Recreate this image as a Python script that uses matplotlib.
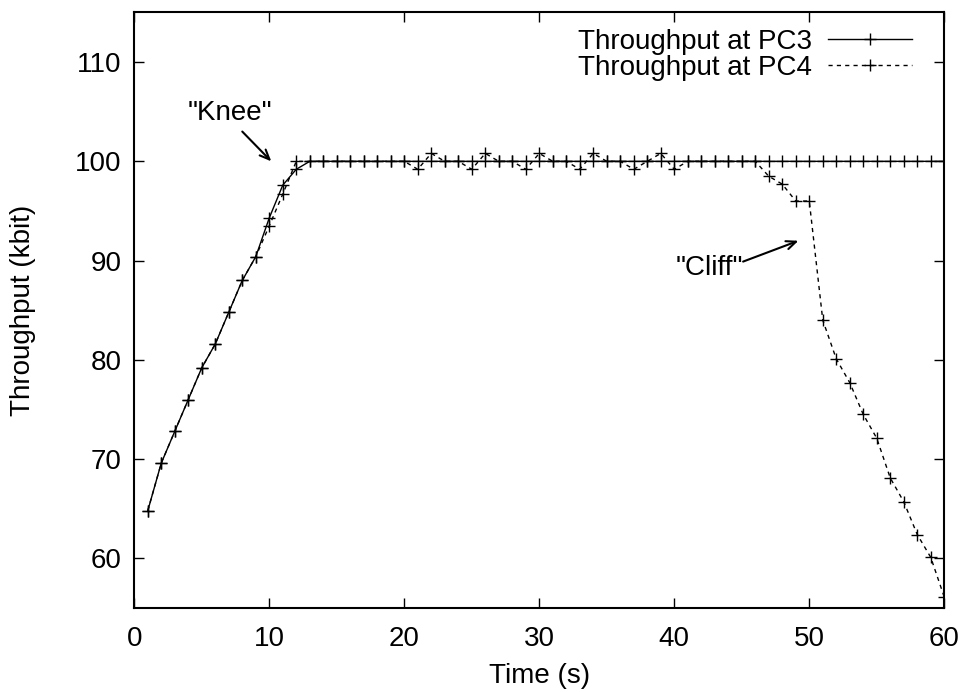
import matplotlib
matplotlib.use("Agg")
import matplotlib.pyplot as plt

plt.rcParams['font.family'] = ['Liberation Sans', 'DejaVu Sans']

# time in seconds
t = list(range(1, 61))

# throughput at PC3 (kbit)
pc3 = [64.8, 69.6, 72.8, 76.0, 79.2, 81.6, 84.8, 88.0, 90.4, 94.3,
       97.6, 99.2] + [100.0] * 48

# throughput at PC4 (kbit)
pc4 = [64.8, 69.6, 72.8, 76.0, 79.2, 81.6, 84.8, 88.0, 90.4, 93.5,
       96.7, 100.0, 100.0, 100.0, 100.0, 100.0, 100.0, 100.0, 100.0, 100.0,
       99.2, 100.8, 100.0, 100.0, 99.2, 100.8, 100.0, 100.0, 99.2, 100.8,
       100.0, 100.0, 99.2, 100.8, 100.0, 100.0, 99.2, 100.0, 100.8, 99.2,
       100.0, 100.0, 100.0, 100.0, 100.0, 100.0, 98.5, 97.7, 96.0, 96.0,
       84.0, 80.1, 77.7, 74.5, 72.1, 68.1, 65.7, 62.4, 60.1, 56.1]

xticks = [0, 10, 20, 30, 40, 50, 60]
yticks = [60, 70, 80, 90, 100, 110]

fs = 20

fig = plt.figure(figsize=(9.66, 6.92), dpi=100)
ax = fig.add_axes([0.139, 0.1214, 0.8385, 0.8606])

ax.plot(t, pc3, color='black', lw=1, marker='+', ms=8.5, mew=1,
        label='Throughput at PC3')
ax.plot(t, pc4, color='black', lw=1, ls=(0, (3, 3)), marker='+', ms=8.5, mew=1,
        label='Throughput at PC4')

ax.set_xlim(0, 60)
ax.set_ylim(55, 115)
ax.set_xticks(xticks)
ax.set_yticks(yticks)
ax.tick_params(direction='in', length=7, width=1, top=True, right=True,
               labelsize=fs)
ax.tick_params(axis='x', pad=13)
ax.tick_params(axis='y', pad=9)
for s in ax.spines.values():
    s.set_linewidth(1.5)

ax.set_xlabel('Time (s)', fontsize=fs, labelpad=8)
ax.set_ylabel('Throughput (kbit)', fontsize=fs, labelpad=28)

# annotations
arr = dict(arrowstyle='->, head_length=0.7, head_width=0.3', color='black',
           lw=1.5, shrinkA=0, shrinkB=0)
ax.text(7.05, 104.85, '"Knee"', fontsize=fs, ha='center', va='center')
ax.annotate('', xy=(10.15, 100.0), xytext=(8.0, 103.0), arrowprops=arr)
ax.text(45.1, 89.3, '"Cliff"', fontsize=fs, ha='right', va='center')
ax.annotate('', xy=(49.2, 92.0), xytext=(45.1, 89.9), arrowprops=arr)

ax.legend(loc='upper right', frameon=False, markerfirst=False, fontsize=fs,
          handlelength=3.0, labelspacing=0.0, borderaxespad=0.0,
          borderpad=0.3, handletextpad=0.6, bbox_to_anchor=(0.970, 0.987))

fig.savefig('out.png', dpi=100)
